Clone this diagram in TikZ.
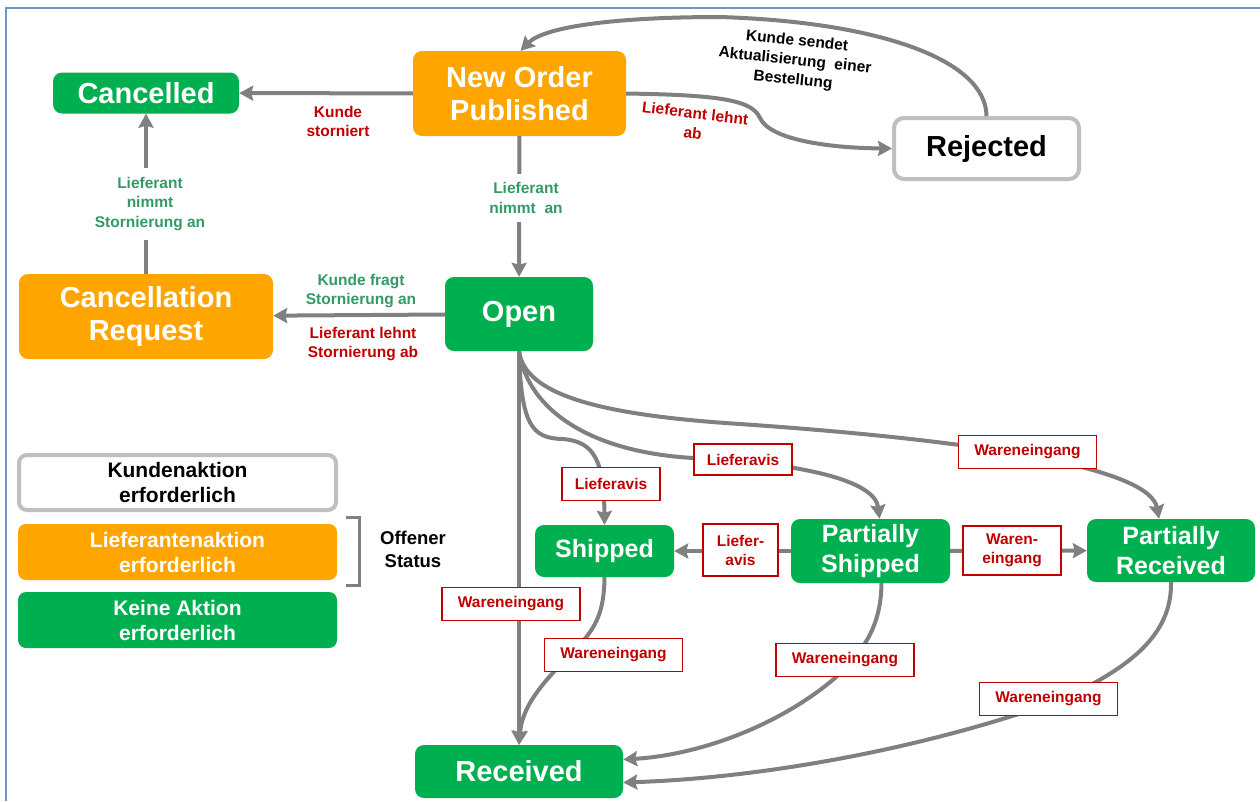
\documentclass[tikz,border=0pt]{standalone}
\usepackage{fontspec}
\setmainfont{Liberation Sans}
\usepackage{tikz}
\usetikzlibrary{arrows.meta}

\definecolor{okgreen}{RGB}{0,176,80}
\definecolor{actorange}{RGB}{255,165,0}
\definecolor{arrowgrey}{RGB}{128,128,128}
\definecolor{boxgrey}{RGB}{191,191,191}
\definecolor{lblred}{RGB}{192,0,0}
\definecolor{lblgreen}{RGB}{51,153,102}
\definecolor{frameblue}{RGB}{110,150,200}

\tikzset{
  state/.style={rounded corners=9pt, text=white, align=center, inner sep=0pt,
    font=\bfseries\fontsize{29}{33}\selectfont},
  greenstate/.style={state, fill=okgreen},
  orangestate/.style={state, fill=actorange},
  smallstate/.style={greenstate, font=\bfseries\fontsize{25}{30}\selectfont},
  legendbox/.style={rounded corners=8pt, align=center, inner sep=0pt,
    minimum width=319pt, minimum height=56pt,
    font=\bfseries\fontsize{21}{25}\selectfont},
  trans/.style={draw=arrowgrey, line width=4pt,
    -{Stealth[length=14pt,width=15pt,inset=2pt]}},
  lbl/.style={draw=lblred, line width=1.6pt, fill=white, text=lblred, align=center,
    inner sep=0pt, minimum height=33pt, minimum width=138pt,
    font=\bfseries\fontsize{15.5}{19}\selectfont},
  redtxt/.style={text=lblred, align=center, inner sep=0pt,
    font=\bfseries\fontsize{15.5}{19}\selectfont},
  greentxt/.style={text=lblgreen, align=center, fill=white, inner xsep=2pt, inner ysep=9pt,
    font=\bfseries\fontsize{15.5}{19.5}\selectfont},
  blacktxt/.style={text=black, align=center, inner sep=0pt,
    font=\bfseries\fontsize{15.5}{19.5}\selectfont}
}

\begin{document}
\begin{tikzpicture}[x=1pt, y=-1pt]
  \useasboundingbox (0,0) rectangle (1260,801);
  \fill[white] (0,0) rectangle (1260,801);
  \draw[frameblue, line width=1.5pt] (6,801) -- (6,8) -- (1260,8);

  \node[greenstate, minimum width=186pt, minimum height=41pt] (Cancelled) at (146,93) {Cancelled};
  \node[orangestate, minimum width=213pt, minimum height=85pt] (NewOrder) at (519.5,93.5) {New Order\\Published};
  \node[state, draw=boxgrey, line width=4pt, fill=white, text=black, rounded corners=10pt,
        minimum width=185pt, minimum height=61pt] (Rejected) at (986.5,148.5) {Rejected};
  \node[orangestate, minimum width=254pt, minimum height=85pt] (CancelReq) at (146,316.5) {Cancellation\\Request};
  \node[greenstate, minimum width=148pt, minimum height=74pt] (Open) at (519,314) {Open};
  \node[smallstate, minimum width=139pt, minimum height=52pt] (Shipped) at (604.5,551) {Shipped};
  \node[smallstate, minimum width=159pt, minimum height=64pt] (PShipped) at (870.5,551) {Partially\\Shipped};
  \node[smallstate, minimum width=168pt, minimum height=63pt] (PReceived) at (1171,550.5) {Partially\\Received};
  \node[greenstate, minimum width=208pt, minimum height=53pt] (Received) at (519,771.5) {Received};

  \node[legendbox, draw=boxgrey, line width=4pt, fill=white, minimum width=317pt, minimum height=55pt]
        (LegCustomer) at (177.5,482.5) {Kundenaktion\\erforderlich};
  \node[legendbox, fill=actorange, text=white] (LegSupplier) at (177.5,552) {Lieferantenaktion\\erforderlich};
  \node[legendbox, fill=okgreen, text=white] (LegNone) at (177.5,620) {Keine Aktion\\erforderlich};
  \draw[arrowgrey, line width=3pt] (346,517) -- (359,517) -- (359,585) -- (346,585);
  \node[blacktxt, font=\bfseries\fontsize{18.5}{23}\selectfont] (OpenState) at (413,549) {Offener\\Status};

  \draw[trans] (NewOrder) -- (Cancelled);
  \node[redtxt] (KundeStorniert) at (338,121) {Kunde\\storniert};

  \draw[trans] (NewOrder) -- (Open);
  \node[greentxt] (NimmtAn) at (526,198) {Lieferant\\nimmt~ an};

  \draw[trans] (CancelReq) -- (Cancelled);
  \node[greentxt] (NimmtStorno) at (150,204) {Lieferant\\nimmt\\Stornierung an};

  \draw[trans] (Open) -- (CancelReq);
  \node[greentxt, fill=none, inner sep=0pt] (FragtStorno) at (361,291) {Kunde fragt\\Stornierung an};
  \node[redtxt] (LehntStorno) at (363,344) {Lieferant lehnt\\Stornierung ab};

  \draw[trans] (NewOrder.east) .. controls (720,95) and (752,100) .. (760,118)
    .. controls (770,140) and (830,148) .. (Rejected.west);
  \node[redtxt, rotate=-7, font=\bfseries\fontsize{15.5}{20}\selectfont] (LehntAb) at (694,123) {Lieferant lehnt\\ab};

  \draw[trans] (Rejected.north) .. controls (986,60) and (880,22) .. (720,17)
    .. controls (620,17) and (545,26) .. ([xshift=1pt]NewOrder.north);
  \node[blacktxt, rotate=-6] (Aktualisierung) at (795,61) {Kunde sendet\\Aktualisierung~ einer\\Bestellung};

  \draw[trans] (Open.south) -- (Received.north);
  \node[lbl] (WeOpen) at (511,604) {Wareneingang};

  \draw[trans] (Open.south) .. controls (521,425) and (532,438) .. (562,439)
    .. controls (595,441) and (604,462) .. (Shipped.north);
  \node[lbl, minimum width=98pt] (AvisShipped) at (611,484) {Lieferavis};

  \draw[trans] (Open.south) .. controls (528,410) and (590,452) .. (693,458)
    .. controls (800,463) and (875,480) .. ([xshift=9pt]PShipped.north);
  \node[lbl, minimum width=98pt, minimum height=31pt] (AvisPShipped) at (743,459.5) {Lieferavis};

  \draw[trans] (Open.south) .. controls (525,395) and (600,415) .. (740,424)
    .. controls (1000,442) and (1150,470) .. ([xshift=-12pt]PReceived.north);
  \node[lbl] (WePReceived) at (1027.5,452) {Wareneingang};

  \draw[trans] (PShipped) -- (Shipped);
  \node[lbl, minimum width=75pt, minimum height=52pt] (AvisPart) at (740.5,550) {Liefer-\\avis};

  \draw[trans] (PShipped) -- (PReceived);
  \node[lbl, minimum width=98pt, minimum height=49pt] (WePart) at (1012,550.5) {Waren-\\eingang};

  \draw[trans] (Shipped.south) .. controls (604,615) and (595,630) .. (570,655)
    .. controls (535,690) and (522,710) .. (Received.north);
  \node[lbl] (WeShipped) at (613.5,655) {Wareneingang};

  \draw[trans] ([xshift=11pt]PShipped.south) .. controls (881,625) and (865,650) .. (835,678)
    .. controls (780,725) and (700,755) .. ([yshift=12pt]Received.east);
  \node[lbl] (WePShipped) at (845,660) {Wareneingang};

  \draw[trans] (PReceived.south) .. controls (1172,635) and (1130,668) .. (1060,700)
    .. controls (920,750) and (760,778) .. ([yshift=-11pt]Received.east);
  \node[lbl] (WeReceived) at (1048.5,699) {Wareneingang};
\end{tikzpicture}
\end{document}
